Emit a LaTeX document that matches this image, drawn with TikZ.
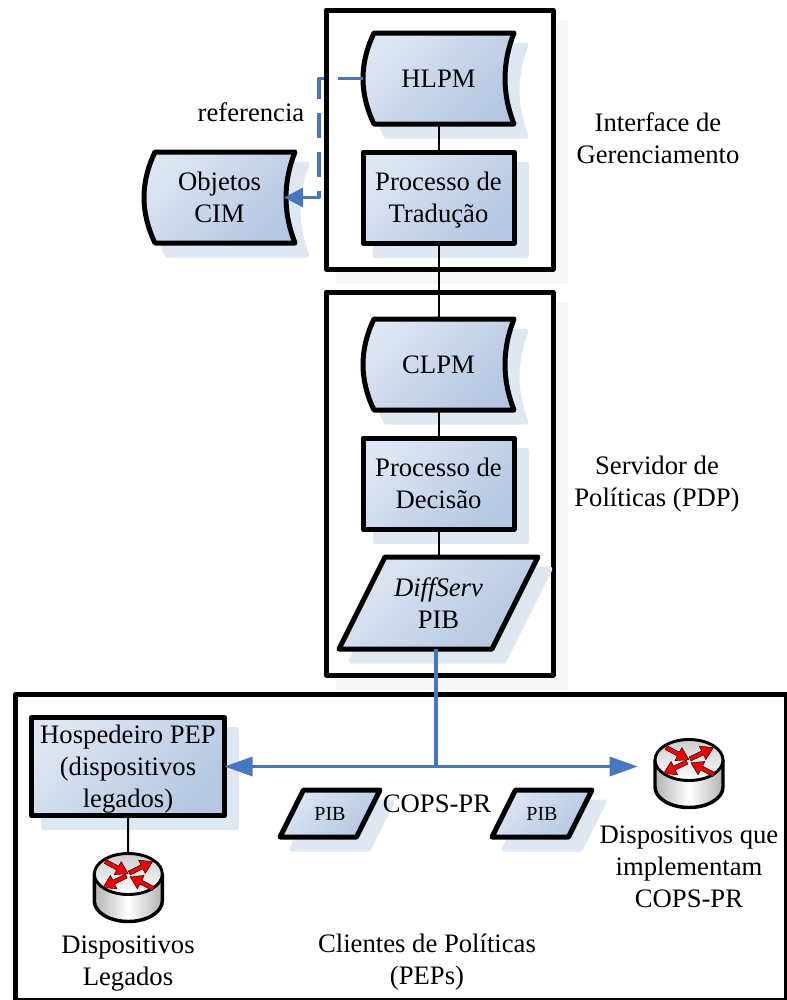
\documentclass[tikz,border=0pt]{standalone}
\usepackage{fontspec}
\setmainfont{Liberation Serif}
\usepackage{xcolor}
\usetikzlibrary{arrows.meta}
\usetikzlibrary{calc}
\usetikzlibrary{positioning}
\usetikzlibrary{shadows}

\definecolor{fillLight}{HTML}{DDE6F3}
\definecolor{fillDark}{HTML}{B5C7E2}
\definecolor{shadowBlue}{HTML}{DFE7F3}
\definecolor{shadowGray}{HTML}{F7F7F7}
\definecolor{busBlue}{HTML}{4677BF}
\definecolor{routerRed}{HTML}{F00000}

\newdimen\boxL \newdimen\boxR \newdimen\boxT \newdimen\boxB
\newdimen\boxLa \newdimen\boxLb \newdimen\boxRb \newdimen\boxCa \newdimen\boxCb

\makeatletter
% rectangle anchors, curved left and right sides
\pgfdeclareshape{storedbox}{
  \inheritsavedanchors[from=rectangle]
  \inheritanchorborder[from=rectangle]
  \inheritanchor[from=rectangle]{center}
  \inheritanchor[from=rectangle]{north}
  \inheritanchor[from=rectangle]{south}
  \inheritanchor[from=rectangle]{west}
  \anchor{east}{\pgf@process{\southwest}\pgf@ya=\pgf@y
    \pgf@process{\northeast}\pgf@y=.5\pgf@y\advance\pgf@y by .5\pgf@ya
    \advance\pgf@x by -6.75pt}
  \backgroundpath{
    \pgf@process{\southwest}\boxL=\pgf@x\boxB=\pgf@y
    \pgf@process{\northeast}\boxR=\pgf@x\boxT=\pgf@y
    \boxLa=\boxL\advance\boxLa by 8.25pt
    \boxLb=\boxL\advance\boxLb by -2.75pt
    \boxRb=\boxR\advance\boxRb by -9pt
    \boxCa=.665\boxT\advance\boxCa by .335\boxB
    \boxCb=.335\boxT\advance\boxCb by .665\boxB
    \pgfpathmoveto{\pgfqpoint{\boxLa}{\boxT}}
    \pgfpathlineto{\pgfqpoint{\boxR}{\boxT}}
    \pgfpathcurveto{\pgfqpoint{\boxRb}{\boxCa}}{\pgfqpoint{\boxRb}{\boxCb}}{\pgfqpoint{\boxR}{\boxB}}
    \pgfpathlineto{\pgfqpoint{\boxLa}{\boxB}}
    \pgfpathcurveto{\pgfqpoint{\boxLb}{\boxCb}}{\pgfqpoint{\boxLb}{\boxCa}}{\pgfqpoint{\boxLa}{\boxT}}
    \pgfpathclose
  }
}
% rectangle anchors, slanted sides
\pgfdeclareshape{slantbox}{
  \inheritsavedanchors[from=rectangle]
  \inheritanchorborder[from=rectangle]
  \inheritanchor[from=rectangle]{center}
  \inheritanchor[from=rectangle]{north}
  \inheritanchor[from=rectangle]{south}
  \inheritanchor[from=rectangle]{west}
  \inheritanchor[from=rectangle]{east}
  \backgroundpath{
    \pgf@process{\southwest}\boxL=\pgf@x\boxB=\pgf@y
    \pgf@process{\northeast}\boxR=\pgf@x\boxT=\pgf@y
    \boxCa=\boxT\advance\boxCa by -\boxB
    \boxCa=.5\boxCa
    \boxLa=\boxL\advance\boxLa by \boxCa
    \boxRb=\boxR\advance\boxRb by -\boxCa
    \pgfpathmoveto{\pgfqpoint{\boxLa}{\boxT}}
    \pgfpathlineto{\pgfqpoint{\boxR}{\boxT}}
    \pgfpathlineto{\pgfqpoint{\boxRb}{\boxB}}
    \pgfpathlineto{\pgfqpoint{\boxL}{\boxB}}
    \pgfpathclose
  }
}
\makeatother

\newcommand{\routericon}[1]{
  \begin{scope}[shift={(#1)}]
    \path[draw=black, line width=2.6pt, left color=black!30, right color=black!30, middle color=white]
      (-34,-13.5) -- (-34,13.5) arc[start angle=180, end angle=0, x radius=34, y radius=20.5] -- (34,-13.5) -- cycle;
    \path[draw=black, line width=2.2pt, top color=black!20, bottom color=white]
      (0,-13.5) ellipse[x radius=34, y radius=20.5];
    \foreach \sx/\sy/\ang in {-23/-26/-28, 1/-14.5/26, 25/1/153, -2/-11.5/206}
      \draw[shift={(\sx,\sy)}, rotate=\ang, fill=routerRed, draw=black, line width=.3pt]
        (0,-2.2) -- (14,-2.2) -- (14,-7.5) -- (26,0) -- (14,7.5) -- (14,2.2) -- (0,2.2) -- cycle;
  \end{scope}
}

\begin{document}
\begin{tikzpicture}[x=.75pt,y=-.75pt,node distance=21pt,line join=round]
\tikzset{
  label text/.style={align=center, font=\fontsize{20}{24}\selectfont, inner sep=0pt},
  panel/.style={draw, line width=3.75pt, fill=white, outer sep=0pt,
    copy shadow={draw=shadowGray, fill=shadowGray, shadow xshift=9pt, shadow yshift=-9pt}},
  block/.style={label text, draw, line width=3.75pt, outer sep=0pt, text depth=0pt, minimum width=113.25pt, minimum height=68.25pt,
    top color=fillLight, bottom color=fillDark, shading angle=45,
    copy shadow={draw=shadowBlue, fill=shadowBlue, shadow xshift=9pt, shadow yshift=-9pt}},
  stored/.style={block, shape=storedbox},
  slant/.style={block, shape=slantbox, minimum width=149.25pt, minimum height=69pt},
  smallslant/.style={slant, font=\fontsize{15}{18}\selectfont, minimum width=75pt, minimum height=35.25pt},
  router/.style={inner sep=0pt, outer sep=0pt, minimum width=53pt, minimum height=53pt},
  wire/.style={draw, line width=1.5pt},
  bus/.style={draw=busBlue, line width=2.4pt},
  busarrow/.style={bus, -{Triangle[length=21pt,width=14.25pt]}},
}
\useasboundingbox (0,0) rectangle (787,1000);

% panels
\node[panel, minimum width=170.25pt, minimum height=194.25pt] (mgmtpanel) at (439.5,139.5) {};
\node[panel, minimum width=170.25pt, minimum height=287.25pt] (serverpanel) at (439.5,483.5) {};
\node[panel, minimum width=578.25pt, minimum height=229.5pt] (clientpanel) at (401,847.5) {};

% management and server columns
\node[stored] (hlpm) at (438.5,78.5) {HLPM};
\node[block] (translate) [below=21pt of hlpm] {Processo de\\Tradução};
\node[stored] (cim) [left=57.75pt of hlpm, yshift=-89.25pt] {Objetos\\CIM};
\node[stored] (clpm) [below=57pt of translate] {CLPM};
\node[block] (decision) [below=21pt of clpm] {Processo de\\Decisão};
\node[slant] (diffpib) [below=21pt of decision] {\textit{DiffServ}\\PIB};

% client side
\node[block, minimum width=144.75pt, minimum height=73.5pt] (host) at (128,766.5) {Hospedeiro PEP\\(dispositivos\\legados)};
\node[router] (routerA) at (128.3,887.5) {};
\node[router] (routerB) at (689,773.5) {};
\node[smallslant] (pibA) at (330,813.5) {PIB};
\node[smallslant] (pibB) at (542,813.5) {PIB};
\routericon{routerA}
\routericon{routerB}

\coordinate (bus) at (436,766.5);

\draw[wire] (hlpm) -- (translate);
\draw[wire] (translate) -- (clpm);
\draw[wire] (clpm) -- (decision);
\draw[wire] (decision) -- (diffpib);
\draw[wire] (host) -- (routerA);

\draw[bus] (diffpib.south -| bus) -- (bus);
\draw[busarrow] (bus) -- (host.east);
\draw[busarrow, shorten >=12pt] (bus) -- (bus -| routerB.west);
\draw[bus, dash pattern=on 18.75pt off 10.5pt, shorten >=-1.5pt, -{Triangle[length=14.25pt,width=14.25pt]}]
  (hlpm.west) -- ++(-44,0) |- (cim.east);

% labels
\node[label text] (reflabel) at (251,112) {referencia};
\node[label text] (mgmtlabel) at (658,138.5) {Interface de\\Gerenciamento};
\node[label text] (serverlabel) at (657,484.5) {Servidor de\\Políticas (PDP)};
\node[label text] (copslabel) at (437,804) {COPS-PR};
\node[label text] (routerBlabel) at (689,867) {Dispositivos que\\implementam\\COPS-PR};
\node[label text] (routerAlabel) at (128,963.5) {Dispositivos\\Legados};
\node[label text] (clientlabel) at (427,962.5) {Clientes de Políticas\\(PEPs)};
\end{tikzpicture}
\end{document}
